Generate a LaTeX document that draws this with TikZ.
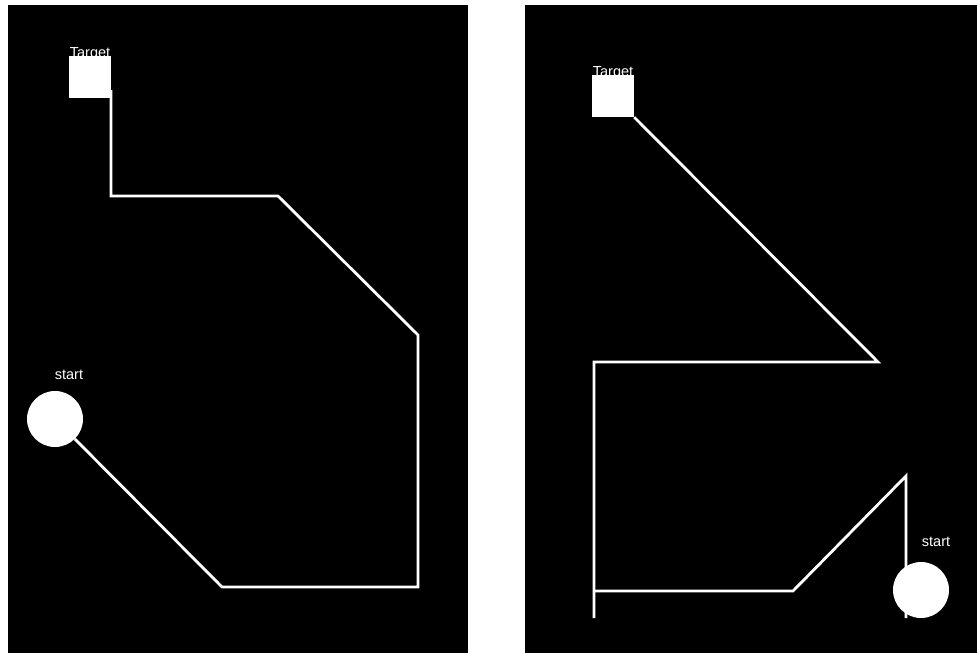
\documentclass[tikz,border=0pt]{standalone}
\usepackage{fontspec}
\setmainfont{Liberation Sans}
\usetikzlibrary{positioning}
\definecolor{cfondo}{HTML}{000000}
\definecolor{cruta}{HTML}{FFFFFF}
\tikzset{
  panel/.style={fill=cfondo, draw=none},
  meta/.style={rectangle, fill=cruta, draw=none, minimum width=42pt, minimum height=42pt, inner sep=0pt},
  inicio/.style={circle, fill=cruta, draw=none, minimum size=56pt, inner sep=0pt},
  ruta/.style={draw=cruta, line width=2.8pt, line join=miter},
  etq/.style={text=cruta, font=\fontsize{14.5}{16}\selectfont, inner sep=1pt},
}
\begin{document}
\begin{tikzpicture}[x=1pt, y=-1pt]
  \useasboundingbox[fill=white] (0,0) rectangle (977,653);
  \fill[panel] (8,5) rectangle (468,653);
  \fill[panel] (525,5) rectangle (977,653);

  % left panel
  \coordinate (l0) at (111,90);
  \coordinate (l1) at (111,196);
  \coordinate (l2) at (278,196);
  \coordinate (l3) at (418,335);
  \coordinate (l4) at (418,587);
  \coordinate (l5) at (222,587);
  \node[meta] (tgtL) at (90,76.5) {};
  \node[inicio] (startL) at (55,419) {};
  \node[etq, above=0pt of tgtL, yshift=-6pt] (tgtLtxt) {Target};
  \node[etq, above=10pt of startL, xshift=14pt] (startLtxt) {start};
  \draw[ruta] (l0) -- (l1) -- (l2) -- (l3) -- (l4) -- (l5) -- (startL);

  % right panel
  \coordinate (r1) at (878,362);
  \coordinate (r2) at (594,362);
  \coordinate (r3) at (594,618);
  \coordinate (r4) at (594,591);
  \coordinate (r5) at (793,591);
  \coordinate (r6) at (906,476);
  \coordinate (r7) at (906,618);
  \node[meta] (tgtR) at (613,96) {};
  \node[etq, above=0pt of tgtR, yshift=-6pt] (tgtRtxt) {Target};
  \draw[ruta] (tgtR.south east) -- (r1) -- (r2) -- (r3);
  \draw[ruta] (r4) -- (r5) -- (r6) -- (r7);
  \node[inicio] (startR) at (921,590) {};
  \node[etq, above=14pt of startR, xshift=15pt] (startRtxt) {start};
\end{tikzpicture}
\end{document}
